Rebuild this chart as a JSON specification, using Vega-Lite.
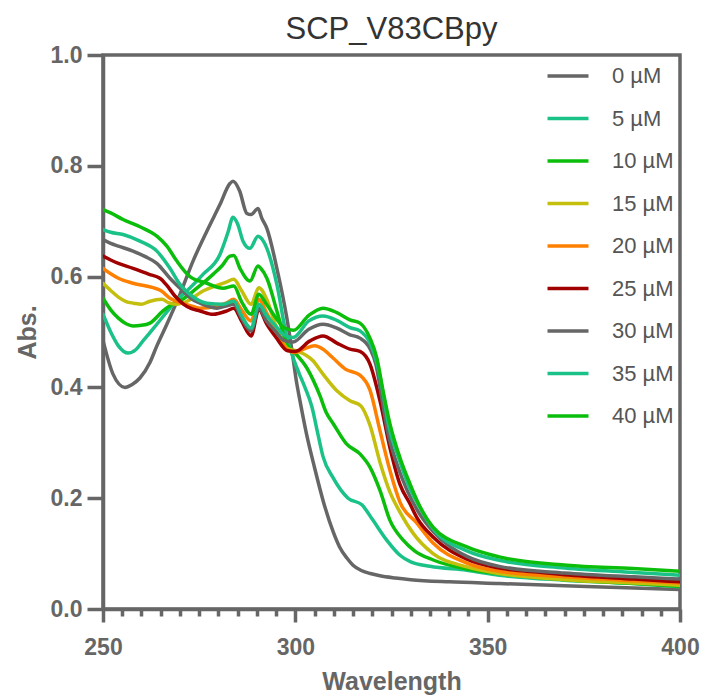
{
  "$schema": "https://vega.github.io/schema/vega-lite/v6.json",
  "autosize": {"type": "none"},
  "padding": {"left": 103, "top": 55, "right": 25, "bottom": 87},
  "width": 577,
  "height": 554,
  "background": "white",
  "title": {"text": "SCP_V83CBpy", "font": "Liberation Sans", "fontSize": 31, "fontWeight": "normal", "color": "#333333", "anchor": "middle", "offset": -2},
  "config": {
    "view": {"stroke": "#666666", "strokeWidth": 3.5},
    "axis": {"grid": false, "domainColor": "#666666", "domainWidth": 3.5, "tickColor": "#666666", "tickWidth": 3.5,
      "labelFont": "Liberation Sans", "labelFontWeight": "bold", "labelFontSize": 23, "labelColor": "#666666",
      "titleFont": "Liberation Sans", "titleFontWeight": "bold", "titleFontSize": 25, "titleColor": "#666666"}
  },
  "data": {"values": [
    {"c":"0 µM","w":250,"a":0.485},{"c":"0 µM","w":252.6,"a":0.424},{"c":"0 µM","w":255.7,"a":0.400},{"c":"0 µM","w":257.5,"a":0.405},{"c":"0 µM","w":259.6,"a":0.417},{"c":"0 µM","w":262.2,"a":0.445},{"c":"0 µM","w":264,"a":0.475},{"c":"0 µM","w":266.6,"a":0.514},{"c":"0 µM","w":270,"a":0.568},{"c":"0 µM","w":273.4,"a":0.628},{"c":"0 µM","w":277,"a":0.682},{"c":"0 µM","w":280.4,"a":0.730},{"c":"0 µM","w":283,"a":0.768},{"c":"0 µM","w":283.8,"a":0.772},{"c":"0 µM","w":285.5,"a":0.755},{"c":"0 µM","w":287.4,"a":0.714},{"c":"0 µM","w":288.5,"a":0.712},{"c":"0 µM","w":290.3,"a":0.723},{"c":"0 µM","w":291.3,"a":0.705},{"c":"0 µM","w":292.6,"a":0.687},{"c":"0 µM","w":295.2,"a":0.615},{"c":"0 µM","w":297.8,"a":0.525},{"c":"0 µM","w":299,"a":0.472},{"c":"0 µM","w":300.4,"a":0.406},{"c":"0 µM","w":301.2,"a":0.376},{"c":"0 µM","w":302.9,"a":0.316},{"c":"0 µM","w":305,"a":0.255},{"c":"0 µM","w":307.2,"a":0.196},{"c":"0 µM","w":309.8,"a":0.14},{"c":"0 µM","w":311.5,"a":0.112},{"c":"0 µM","w":313.4,"a":0.092},{"c":"0 µM","w":315,"a":0.079},{"c":"0 µM","w":317,"a":0.07},{"c":"0 µM","w":319.5,"a":0.064},{"c":"0 µM","w":322,"a":0.06},{"c":"0 µM","w":326,"a":0.056},{"c":"0 µM","w":330,"a":0.053},{"c":"0 µM","w":340,"a":0.049},{"c":"0 µM","w":353,"a":0.046},{"c":"0 µM","w":370,"a":0.042},{"c":"0 µM","w":388,"a":0.038},{"c":"0 µM","w":400,"a":0.035},

    {"c":"5 µM","w":250,"a":0.532},{"c":"5 µM","w":252,"a":0.50},{"c":"5 µM","w":254,"a":0.475},{"c":"5 µM","w":256.5,"a":0.462},{"c":"5 µM","w":258.5,"a":0.468},{"c":"5 µM","w":260.4,"a":0.484},{"c":"5 µM","w":262,"a":0.497},{"c":"5 µM","w":264,"a":0.514},{"c":"5 µM","w":267.4,"a":0.543},{"c":"5 µM","w":269,"a":0.556},{"c":"5 µM","w":271.8,"a":0.574},{"c":"5 µM","w":276,"a":0.604},{"c":"5 µM","w":280.4,"a":0.64},{"c":"5 µM","w":282.5,"a":0.68},{"c":"5 µM","w":283.8,"a":0.707},{"c":"5 µM","w":285,"a":0.695},{"c":"5 µM","w":286.4,"a":0.664},{"c":"5 µM","w":288.2,"a":0.651},{"c":"5 µM","w":290.3,"a":0.673},{"c":"5 µM","w":291,"a":0.67},{"c":"5 µM","w":292.6,"a":0.651},{"c":"5 µM","w":295.2,"a":0.586},{"c":"5 µM","w":297.8,"a":0.49},{"c":"5 µM","w":299,"a":0.462},{"c":"5 µM","w":301,"a":0.425},{"c":"5 µM","w":302.5,"a":0.4},{"c":"5 µM","w":304.3,"a":0.365},{"c":"5 µM","w":305.8,"a":0.318},{"c":"5 µM","w":307.2,"a":0.275},{"c":"5 µM","w":309.8,"a":0.237},{"c":"5 µM","w":313.7,"a":0.20},{"c":"5 µM","w":317.3,"a":0.188},{"c":"5 µM","w":320.2,"a":0.16},{"c":"5 µM","w":323.8,"a":0.124},{"c":"5 µM","w":327.2,"a":0.097},{"c":"5 µM","w":330,"a":0.085},{"c":"5 µM","w":335,"a":0.077},{"c":"5 µM","w":344.6,"a":0.070},{"c":"5 µM","w":353,"a":0.061},{"c":"5 µM","w":370,"a":0.052},{"c":"5 µM","w":388,"a":0.046},{"c":"5 µM","w":400,"a":0.040},

    {"c":"10 µM","w":250,"a":0.561},{"c":"10 µM","w":252,"a":0.54},{"c":"10 µM","w":254,"a":0.525},{"c":"10 µM","w":256,"a":0.515},{"c":"10 µM","w":257.8,"a":0.511},{"c":"10 µM","w":260,"a":0.512},{"c":"10 µM","w":262.2,"a":0.516},{"c":"10 µM","w":265.6,"a":0.538},{"c":"10 µM","w":268,"a":0.55},{"c":"10 µM","w":270,"a":0.556},{"c":"10 µM","w":274.4,"a":0.579},{"c":"10 µM","w":278.6,"a":0.604},{"c":"10 µM","w":281,"a":0.62},{"c":"10 µM","w":283,"a":0.637},{"c":"10 µM","w":284,"a":0.638},{"c":"10 µM","w":285.6,"a":0.615},{"c":"10 µM","w":288.2,"a":0.592},{"c":"10 µM","w":290.3,"a":0.619},{"c":"10 µM","w":291,"a":0.615},{"c":"10 µM","w":292.6,"a":0.597},{"c":"10 µM","w":295.2,"a":0.538},{"c":"10 µM","w":297.8,"a":0.478},{"c":"10 µM","w":299.4,"a":0.466},{"c":"10 µM","w":303,"a":0.435},{"c":"10 µM","w":306.4,"a":0.385},{"c":"10 µM","w":308,"a":0.355},{"c":"10 µM","w":309.9,"a":0.334},{"c":"10 µM","w":313.3,"a":0.298},{"c":"10 µM","w":316.8,"a":0.28},{"c":"10 µM","w":319.4,"a":0.256},{"c":"10 µM","w":322,"a":0.214},{"c":"10 µM","w":324.6,"a":0.16},{"c":"10 µM","w":328.1,"a":0.124},{"c":"10 µM","w":331,"a":0.105},{"c":"10 µM","w":336,"a":0.088},{"c":"10 µM","w":344.6,"a":0.072},{"c":"10 µM","w":353,"a":0.064},{"c":"10 µM","w":370,"a":0.053},{"c":"10 µM","w":388,"a":0.046},{"c":"10 µM","w":400,"a":0.041},

    {"c":"15 µM","w":250,"a":0.588},{"c":"15 µM","w":252,"a":0.575},{"c":"15 µM","w":254,"a":0.563},{"c":"15 µM","w":256,"a":0.555},{"c":"15 µM","w":258,"a":0.552},{"c":"15 µM","w":260,"a":0.55},{"c":"15 µM","w":262,"a":0.555},{"c":"15 µM","w":265.3,"a":0.559},{"c":"15 µM","w":267,"a":0.553},{"c":"15 µM","w":269,"a":0.55},{"c":"15 µM","w":272,"a":0.556},{"c":"15 µM","w":276,"a":0.574},{"c":"15 µM","w":280,"a":0.585},{"c":"15 µM","w":282,"a":0.59},{"c":"15 µM","w":284,"a":0.595},{"c":"15 µM","w":286,"a":0.575},{"c":"15 µM","w":288.5,"a":0.55},{"c":"15 µM","w":290.5,"a":0.58},{"c":"15 µM","w":292.5,"a":0.56},{"c":"15 µM","w":295,"a":0.51},{"c":"15 µM","w":298,"a":0.47},{"c":"15 µM","w":300.4,"a":0.466},{"c":"15 µM","w":304.6,"a":0.448},{"c":"15 µM","w":307.2,"a":0.424},{"c":"15 µM","w":310.8,"a":0.394},{"c":"15 µM","w":314.2,"a":0.376},{"c":"15 µM","w":317,"a":0.367},{"c":"15 µM","w":319.4,"a":0.332},{"c":"15 µM","w":322,"a":0.265},{"c":"15 µM","w":324.6,"a":0.211},{"c":"15 µM","w":327.2,"a":0.175},{"c":"15 µM","w":330.6,"a":0.137},{"c":"15 µM","w":335.8,"a":0.10},{"c":"15 µM","w":344.6,"a":0.076},{"c":"15 µM","w":353,"a":0.064},{"c":"15 µM","w":370,"a":0.053},{"c":"15 µM","w":388,"a":0.047},{"c":"15 µM","w":400,"a":0.043},

    {"c":"20 µM","w":250,"a":0.615},{"c":"20 µM","w":252,"a":0.605},{"c":"20 µM","w":254,"a":0.597},{"c":"20 µM","w":257.8,"a":0.588},{"c":"20 µM","w":263,"a":0.58},{"c":"20 µM","w":265,"a":0.575},{"c":"20 µM","w":267.4,"a":0.561},{"c":"20 µM","w":270,"a":0.553},{"c":"20 µM","w":272.5,"a":0.548},{"c":"20 µM","w":275.2,"a":0.543},{"c":"20 µM","w":279.6,"a":0.547},{"c":"20 µM","w":282,"a":0.552},{"c":"20 µM","w":284,"a":0.559},{"c":"20 µM","w":286,"a":0.54},{"c":"20 µM","w":288.5,"a":0.52},{"c":"20 µM","w":290.5,"a":0.559},{"c":"20 µM","w":292.5,"a":0.535},{"c":"20 µM","w":295,"a":0.5},{"c":"20 µM","w":298,"a":0.468},{"c":"20 µM","w":300,"a":0.463},{"c":"20 µM","w":302.5,"a":0.47},{"c":"20 µM","w":305,"a":0.475},{"c":"20 µM","w":307.2,"a":0.469},{"c":"20 µM","w":309.8,"a":0.453},{"c":"20 µM","w":313,"a":0.433},{"c":"20 µM","w":316.8,"a":0.422},{"c":"20 µM","w":319.4,"a":0.395},{"c":"20 µM","w":322,"a":0.322},{"c":"20 µM","w":324.6,"a":0.25},{"c":"20 µM","w":327.2,"a":0.193},{"c":"20 µM","w":331.6,"a":0.155},{"c":"20 µM","w":335.8,"a":0.119},{"c":"20 µM","w":344.6,"a":0.083},{"c":"20 µM","w":353,"a":0.068},{"c":"20 µM","w":370,"a":0.058},{"c":"20 µM","w":388,"a":0.051},{"c":"20 µM","w":400,"a":0.047},

    {"c":"25 µM","w":250,"a":0.637},{"c":"25 µM","w":252,"a":0.63},{"c":"25 µM","w":254,"a":0.624},{"c":"25 µM","w":257.8,"a":0.615},{"c":"25 µM","w":262,"a":0.604},{"c":"25 µM","w":264.8,"a":0.597},{"c":"25 µM","w":266.5,"a":0.585},{"c":"25 µM","w":268.7,"a":0.565},{"c":"25 µM","w":271,"a":0.55},{"c":"25 µM","w":273,"a":0.542},{"c":"25 µM","w":275.2,"a":0.538},{"c":"25 µM","w":278.6,"a":0.532},{"c":"25 µM","w":282.2,"a":0.538},{"c":"25 µM","w":284,"a":0.543},{"c":"25 µM","w":286,"a":0.52},{"c":"25 µM","w":288.5,"a":0.493},{"c":"25 µM","w":290.5,"a":0.541},{"c":"25 µM","w":292.5,"a":0.515},{"c":"25 µM","w":295,"a":0.49},{"c":"25 µM","w":298,"a":0.466},{"c":"25 µM","w":300,"a":0.465},{"c":"25 µM","w":303.8,"a":0.484},{"c":"25 µM","w":307.2,"a":0.493},{"c":"25 µM","w":310.8,"a":0.48},{"c":"25 µM","w":314.2,"a":0.469},{"c":"25 µM","w":316.8,"a":0.465},{"c":"25 µM","w":319.4,"a":0.442},{"c":"25 µM","w":322,"a":0.376},{"c":"25 µM","w":324.6,"a":0.291},{"c":"25 µM","w":327.2,"a":0.225},{"c":"25 µM","w":329.8,"a":0.19},{"c":"25 µM","w":331.6,"a":0.165},{"c":"25 µM","w":335.8,"a":0.13},{"c":"25 µM","w":344.6,"a":0.09},{"c":"25 µM","w":353,"a":0.074},{"c":"25 µM","w":361.8,"a":0.067},{"c":"25 µM","w":370,"a":0.062},{"c":"25 µM","w":388,"a":0.054},{"c":"25 µM","w":400,"a":0.049},

    {"c":"30 µM","w":250,"a":0.667},{"c":"30 µM","w":252,"a":0.66},{"c":"30 µM","w":254,"a":0.655},{"c":"30 µM","w":257.8,"a":0.646},{"c":"30 µM","w":261,"a":0.636},{"c":"30 µM","w":264,"a":0.624},{"c":"30 µM","w":267.4,"a":0.597},{"c":"30 µM","w":270.8,"a":0.574},{"c":"30 µM","w":273,"a":0.56},{"c":"30 µM","w":275.2,"a":0.552},{"c":"30 µM","w":279.6,"a":0.543},{"c":"30 µM","w":282,"a":0.547},{"c":"30 µM","w":284,"a":0.55},{"c":"30 µM","w":286,"a":0.525},{"c":"30 µM","w":288.5,"a":0.502},{"c":"30 µM","w":290.5,"a":0.543},{"c":"30 µM","w":292.5,"a":0.52},{"c":"30 µM","w":295,"a":0.5},{"c":"30 µM","w":297,"a":0.485},{"c":"30 µM","w":299.4,"a":0.482},{"c":"30 µM","w":303.5,"a":0.505},{"c":"30 µM","w":307.2,"a":0.514},{"c":"30 µM","w":310.8,"a":0.507},{"c":"30 µM","w":314.2,"a":0.495},{"c":"30 µM","w":316.8,"a":0.489},{"c":"30 µM","w":319.4,"a":0.47},{"c":"30 µM","w":321,"a":0.44},{"c":"30 µM","w":322.5,"a":0.38},{"c":"30 µM","w":324,"a":0.32},{"c":"30 µM","w":326.5,"a":0.26},{"c":"30 µM","w":329,"a":0.215},{"c":"30 µM","w":332,"a":0.175},{"c":"30 µM","w":335.8,"a":0.14},{"c":"30 µM","w":344.6,"a":0.095},{"c":"30 µM","w":353,"a":0.077},{"c":"30 µM","w":370,"a":0.065},{"c":"30 µM","w":388,"a":0.058},{"c":"30 µM","w":400,"a":0.054},

    {"c":"35 µM","w":250,"a":0.685},{"c":"35 µM","w":252,"a":0.68},{"c":"35 µM","w":255.2,"a":0.676},{"c":"35 µM","w":259.6,"a":0.664},{"c":"35 µM","w":264,"a":0.646},{"c":"35 µM","w":267.4,"a":0.615},{"c":"35 µM","w":270,"a":0.586},{"c":"35 µM","w":272.6,"a":0.568},{"c":"35 µM","w":277,"a":0.552},{"c":"35 µM","w":281.2,"a":0.55},{"c":"35 µM","w":284,"a":0.556},{"c":"35 µM","w":286,"a":0.53},{"c":"35 µM","w":288.5,"a":0.507},{"c":"35 µM","w":290.5,"a":0.55},{"c":"35 µM","w":292.5,"a":0.53},{"c":"35 µM","w":295,"a":0.51},{"c":"35 µM","w":297,"a":0.495},{"c":"35 µM","w":299.4,"a":0.49},{"c":"35 µM","w":303.5,"a":0.52},{"c":"35 µM","w":307.2,"a":0.529},{"c":"35 µM","w":310.8,"a":0.521},{"c":"35 µM","w":314.2,"a":0.508},{"c":"35 µM","w":316.8,"a":0.502},{"c":"35 µM","w":319.4,"a":0.48},{"c":"35 µM","w":321.2,"a":0.445},{"c":"35 µM","w":322.8,"a":0.39},{"c":"35 µM","w":324.3,"a":0.33},{"c":"35 µM","w":327,"a":0.27},{"c":"35 µM","w":329.5,"a":0.222},{"c":"35 µM","w":332.2,"a":0.185},{"c":"35 µM","w":335.8,"a":0.145},{"c":"35 µM","w":344.6,"a":0.105},{"c":"35 µM","w":353,"a":0.088},{"c":"35 µM","w":370,"a":0.074},{"c":"35 µM","w":388,"a":0.066},{"c":"35 µM","w":400,"a":0.061},

    {"c":"40 µM","w":250,"a":0.721},{"c":"40 µM","w":252,"a":0.715},{"c":"40 µM","w":255.2,"a":0.703},{"c":"40 µM","w":259.6,"a":0.69},{"c":"40 µM","w":264,"a":0.673},{"c":"40 µM","w":266.6,"a":0.655},{"c":"40 µM","w":269.2,"a":0.628},{"c":"40 µM","w":272.6,"a":0.60},{"c":"40 µM","w":277,"a":0.588},{"c":"40 µM","w":281.2,"a":0.579},{"c":"40 µM","w":284,"a":0.583},{"c":"40 µM","w":286,"a":0.555},{"c":"40 µM","w":288.5,"a":0.532},{"c":"40 µM","w":290.5,"a":0.568},{"c":"40 µM","w":292.5,"a":0.55},{"c":"40 µM","w":295,"a":0.525},{"c":"40 µM","w":297,"a":0.508},{"c":"40 µM","w":299.5,"a":0.503},{"c":"40 µM","w":303.5,"a":0.53},{"c":"40 µM","w":307.2,"a":0.543},{"c":"40 µM","w":310.8,"a":0.535},{"c":"40 µM","w":314.2,"a":0.522},{"c":"40 µM","w":316.8,"a":0.516},{"c":"40 µM","w":319.4,"a":0.489},{"c":"40 µM","w":321.2,"a":0.453},{"c":"40 µM","w":322.8,"a":0.394},{"c":"40 µM","w":324.6,"a":0.334},{"c":"40 µM","w":327.2,"a":0.273},{"c":"40 µM","w":329.8,"a":0.226},{"c":"40 µM","w":332.4,"a":0.185},{"c":"40 µM","w":335.8,"a":0.148},{"c":"40 µM","w":344.6,"a":0.112},{"c":"40 µM","w":353,"a":0.094},{"c":"40 µM","w":370.6,"a":0.079},{"c":"40 µM","w":387.8,"a":0.073},{"c":"40 µM","w":400,"a":0.068}
  ]},
  "mark": {"type": "line", "interpolate": "monotone", "strokeWidth": 3.5, "strokeCap": "round", "strokeJoin": "round", "clip": true},
  "encoding": {
    "x": {"field": "w", "type": "quantitative", "scale": {"domain": [250, 400], "nice": false, "zero": false},
      "axis": {"title": "Wavelength", "values": [250,255,260,265,270,275,280,285,290,295,300,305,310,315,320,325,330,335,340,345,350,355,360,365,370,375,380,385,390,395,400],
        "labelExpr": "datum.value % 50 === 0 ? datum.label : ''", "labelOverlap": false, "labelFlush": false,
        "tickSize": {"condition": {"test": "datum.value % 50 === 0", "value": 13}, "value": 7},
        "labelPadding": 14, "titlePadding": 10}},
    "y": {"field": "a", "type": "quantitative", "scale": {"domain": [0, 1], "nice": false},
      "axis": {"title": "Abs.", "values": [0, 0.2, 0.4, 0.6, 0.8, 1.0], "format": ".1f", "tickSize": 16, "labelPadding": 5, "titlePadding": 10}},
    "color": {"field": "c", "type": "nominal",
      "scale": {"domain": ["0 µM","5 µM","10 µM","15 µM","20 µM","25 µM","30 µM","35 µM","40 µM"],
        "range": ["#666666","#1BC288","#0CBE0C","#C4BE0C","#FF8000","#A00000","#666666","#1BC288","#0CBE0C"]},
      "legend": {"title": null, "orient": "none", "legendX": 453, "legendY": 9,
        "symbolType": "M-2,0H2", "symbolSize": 420, "symbolStrokeWidth": 3.5,
        "labelFont": "Liberation Sans", "labelFontSize": 22, "labelColor": "#555555", "labelOffset": 32, "rowPadding": 19.5}}
  }
}
